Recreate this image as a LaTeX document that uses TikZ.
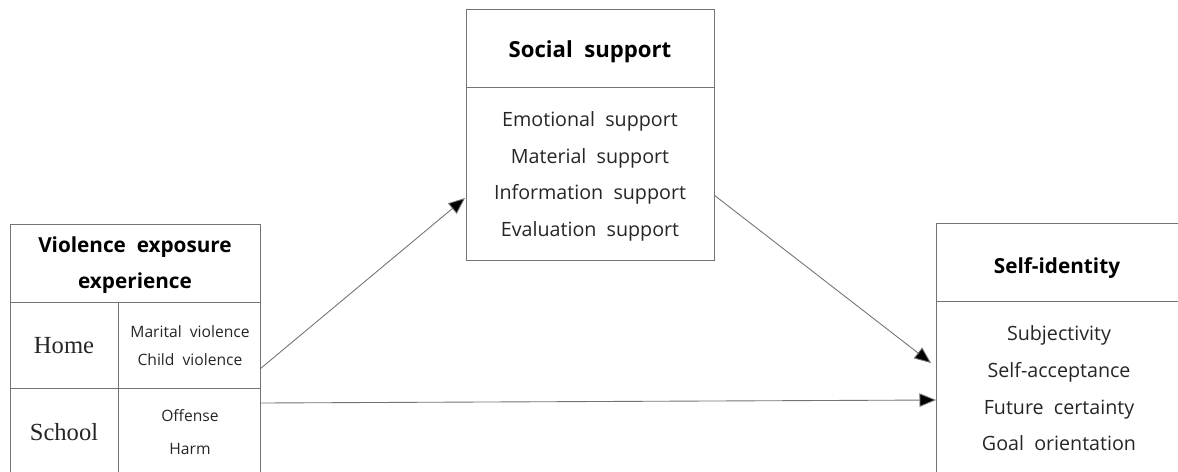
\documentclass[tikz,border=0pt]{standalone}
\usepackage{fontspec}
\setmainfont{Open Sans}
\newfontfamily\homefont{Liberation Serif}
\usetikzlibrary{arrows.meta}

\tikzset{
	boxline/.style={draw=black!55, line width=0.5pt},
	path/.style={draw=black!55, line width=0.5pt, -{Triangle[length=3.3mm,width=2.7mm,fill=black]}},
	head/.style={anchor=base, font=\fontsize{11.8}{13}\selectfont\bfseries, text=black},
	item/.style={anchor=base, font=\fontsize{11.2}{12}\selectfont, text=black!85},
	small/.style={anchor=base, font=\fontsize{8.9}{10}\selectfont, text=black!85},
	place/.style={anchor=base, font=\homefont\fontsize{14}{15}\selectfont, text=black!85}
}

\begin{document}
\begin{tikzpicture}[x=0.02cm, y=-0.02cm]
		%%%%% START %%%%%
		\useasboundingbox (0, 0) rectangle (1178, 471);
		\clip (0, 0) rectangle (1178, 471);
		
		% violence exposure experience
		\draw[boxline] (10, 480) -- (10, 224) -- (260, 224) -- (260, 480);
		\draw[boxline] (10, 302) -- (260, 302);
		\draw[boxline] (10, 388) -- (260, 388);
		\draw[boxline] (118, 302) -- (118, 480);
		\node[head] (vee1) at (135, 252) {Violence\ \ exposure};
		\node[head] (vee2) at (135, 288) {experience};
		\node[place] (home) at (64, 353) {Home};
		\node[small] (home1) at (190, 337) {Marital\ \ violence};
		\node[small] (home2) at (190, 365) {Child\ \ violence};
		\node[place] (school) at (64, 440) {School};
		\node[small] (school1) at (190, 421) {Offense};
		\node[small] (school2) at (190, 454) {Harm};
		\coordinate (homeout) at (260, 369);
		\coordinate (schoolout) at (260, 403);
		
		% social support
		\draw[boxline] (466, 9) rectangle (714, 260);
		\draw[boxline] (466, 87) -- (714, 87);
		\node[head, font=\fontsize{12.6}{13}\selectfont\bfseries] (ss) at (590, 57) {Social\ \ support};
		\node[item] (ss1) at (590, 126) {Emotional\ \ support};
		\node[item] (ss2) at (590, 163) {Material\ \ support};
		\node[item] (ss3) at (590, 199) {Information\ \ support};
		\node[item] (ss4) at (590, 236) {Evaluation\ \ support};
		\coordinate (ssin) at (465, 198);
		\coordinate (ssout) at (714, 195);
		
		% self-identity
		\draw[boxline] (1190, 223) -- (936, 223) -- (936, 480);
		\draw[boxline] (936, 301) -- (1190, 301);
		\node[head] (si) at (1057, 273) {Self-identity};
		\node[item] (si1) at (1059, 340) {Subjectivity};
		\node[item] (si2) at (1059, 377) {Self-acceptance};
		\node[item] (si3) at (1059, 414) {Future\ \ certainty};
		\node[item] (si4) at (1059, 450) {Goal\ \ orientation};
		\coordinate (siin1) at (931, 363);
		\coordinate (siin2) at (936, 400);
		
		% paths
		\draw[path] (homeout) -- (ssin);
		\draw[path] (ssout) -- (siin1);
		\draw[path] (schoolout) -- (siin2);
		
		%%%%% END %%%%%
\end{tikzpicture}
\end{document}
